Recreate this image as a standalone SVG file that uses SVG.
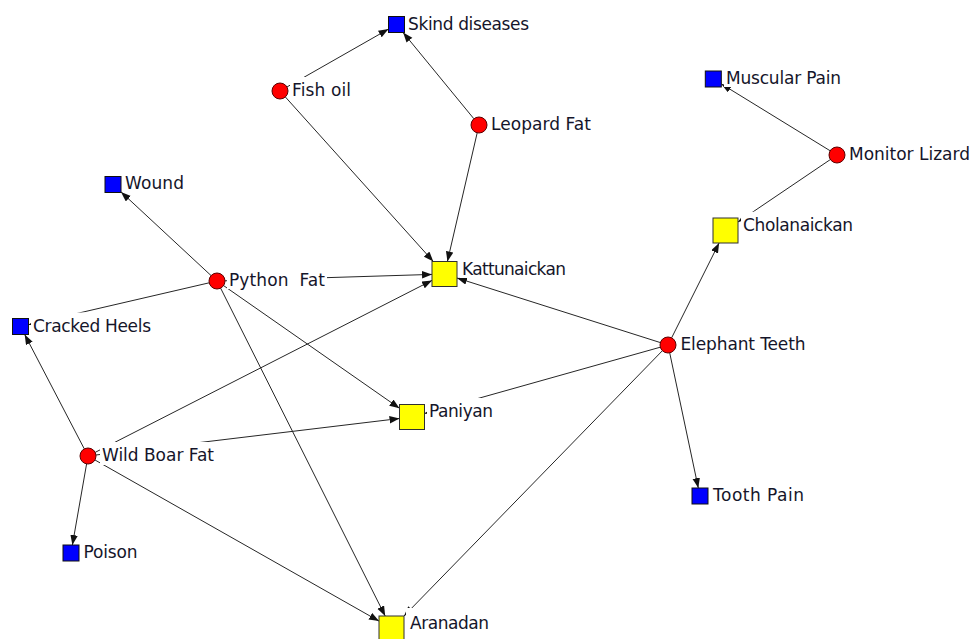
<svg xmlns="http://www.w3.org/2000/svg" width="973" height="639" viewBox="0 0 973 639">
  <style>
    .edge { stroke: #262626; stroke-width: 1; fill: none; marker-end: url(#arrow); }
    .remedy { fill: #ff0000; stroke: #5a0000; stroke-width: 1; }
    .ailment { fill: #0000ff; stroke: #101010; stroke-width: 1; }
    .tribe { fill: #ffff00; stroke: #303030; stroke-width: 1; }
    .lbl-bg { fill: #ffffff; }
    .lbl { font-family: "DejaVu Sans", "Liberation Sans", sans-serif; font-size: 17px; fill: #15152a; }
  </style>
  <defs>
    <marker id="arrow" markerUnits="userSpaceOnUse" markerWidth="11" markerHeight="8" refX="10" refY="3.75" orient="auto">
      <path d="M0,0 L10,3.75 L0,7.5 z" fill="#111111"/>
    </marker>
  </defs>

  <g id="connectors">
    <line class="edge" x1="286.9" y1="87" x2="388.5" y2="29.1"/>
    <line class="edge" x1="473.9" y1="118.8" x2="403.1" y2="32.5"/>
    <line class="edge" x1="285.3" y1="96.9" x2="433.3" y2="261.5"/>
    <line class="edge" x1="477.2" y1="132.8" x2="447.4" y2="261.5"/>
    <line class="edge" x1="211.1" y1="275.6" x2="121" y2="191.9"/>
    <line class="edge" x1="225" y1="280.8" x2="432" y2="274.4"/>
    <line class="edge" x1="209.2" y1="282.8" x2="28.5" y2="324.7"/>
    <line class="edge" x1="223.6" y1="285.6" x2="399.5" y2="408.3"/>
    <line class="edge" x1="220.6" y1="288.1" x2="385.2" y2="616"/>
    <line class="edge" x1="84.3" y1="448.9" x2="24.7" y2="334.5"/>
    <line class="edge" x1="95.1" y1="452.4" x2="432" y2="280.4"/>
    <line class="edge" x1="95.9" y1="455" x2="399.5" y2="418.5"/>
    <line class="edge" x1="86.6" y1="463.9" x2="72.4" y2="545"/>
    <line class="edge" x1="95" y1="460" x2="379" y2="621.1"/>
    <line class="edge" x1="660.4" y1="342.6" x2="457" y2="278"/>
    <line class="edge" x1="660.3" y1="347.2" x2="424.5" y2="413.5"/>
    <line class="edge" x1="671.6" y1="337.9" x2="719.1" y2="243"/>
    <line class="edge" x1="669.7" y1="352.8" x2="698.3" y2="488"/>
    <line class="edge" x1="662.4" y1="350.7" x2="404" y2="616"/>
    <line class="edge" x1="830.2" y1="150.8" x2="721.3" y2="83.9"/>
    <line class="edge" x1="830.4" y1="159.5" x2="738" y2="222"/>
  </g>

  <g id="skind-diseases">
    <rect class="lbl-bg" x="406" y="10.5" width="126" height="23"/>
    <rect class="ailment" x="388.5" y="16.5" width="16" height="16"/>
    <text class="lbl" x="408" y="29.5" textLength="121">Skind diseases</text>
  </g>
  <g id="fish-oil">
    <rect class="lbl-bg" x="290" y="77" width="64" height="23"/>
    <circle class="remedy" cx="280" cy="91" r="8"/>
    <text class="lbl" x="292" y="96" textLength="59">Fish oil</text>
  </g>
  <g id="leopard-fat">
    <rect class="lbl-bg" x="489" y="111" width="105" height="23"/>
    <circle class="remedy" cx="479" cy="125" r="8"/>
    <text class="lbl" x="491" y="130" textLength="100">Leopard Fat</text>
  </g>
  <g id="muscular-pain">
    <rect class="lbl-bg" x="724" y="65" width="120" height="22"/>
    <rect class="ailment" x="705.3" y="71" width="16" height="16"/>
    <text class="lbl" x="726" y="84" textLength="115">Muscular Pain</text>
  </g>
  <g id="monitor-lizard">
    <rect class="lbl-bg" x="847" y="141" width="126" height="23"/>
    <circle class="remedy" cx="837" cy="155" r="8"/>
    <text class="lbl" x="849" y="160" textLength="121">Monitor Lizard</text>
  </g>
  <g id="wound">
    <rect class="lbl-bg" x="123" y="170" width="64" height="23"/>
    <rect class="ailment" x="105" y="176.5" width="16" height="16"/>
    <text class="lbl" x="125" y="189" textLength="59">Wound</text>
  </g>
  <g id="cholanaickan">
    <rect class="lbl-bg" x="741" y="211.7" width="115" height="23"/>
    <rect class="tribe" x="713" y="218" width="25" height="25"/>
    <text class="lbl" x="743" y="230.7" textLength="110">Cholanaickan</text>
  </g>
  <g id="python-fat">
    <rect class="lbl-bg" x="227" y="267" width="100" height="22"/>
    <circle class="remedy" cx="217" cy="281" r="8"/>
    <text class="lbl" x="229" y="286" textLength="96">Python&#160;&#160;Fat</text>
  </g>
  <g id="kattunaickan">
    <rect class="lbl-bg" x="460" y="255.5" width="109" height="22.5"/>
    <rect class="tribe" x="432" y="261.5" width="25" height="25"/>
    <text class="lbl" x="462" y="274.5" textLength="104">Kattunaickan</text>
  </g>
  <g id="cracked-heels">
    <rect class="lbl-bg" x="31" y="312.5" width="122" height="23"/>
    <rect class="ailment" x="12.5" y="318.5" width="16" height="16"/>
    <text class="lbl" x="33" y="331.5" textLength="118">Cracked Heels</text>
  </g>
  <g id="elephant-teeth">
    <rect class="lbl-bg" x="678" y="331" width="131" height="23"/>
    <circle class="remedy" cx="668" cy="345" r="8"/>
    <text class="lbl" x="680.5" y="349.5" textLength="125">Elephant Teeth</text>
  </g>
  <g id="paniyan">
    <rect class="lbl-bg" x="427" y="398" width="69" height="23"/>
    <rect class="tribe" x="399.5" y="404.5" width="25" height="25"/>
    <text class="lbl" x="429" y="417" textLength="64">Paniyan</text>
  </g>
  <g id="wild-boar-fat">
    <rect class="lbl-bg" x="100" y="442" width="116" height="23"/>
    <circle class="remedy" cx="88" cy="456" r="8"/>
    <text class="lbl" x="102" y="461" textLength="112">Wild Boar Fat</text>
  </g>
  <g id="tooth-pain">
    <rect class="lbl-bg" x="711" y="482" width="95" height="23"/>
    <rect class="ailment" x="692" y="488" width="16" height="16"/>
    <text class="lbl" x="713" y="501" textLength="91">Tooth Pain</text>
  </g>
  <g id="poison">
    <rect class="lbl-bg" x="81" y="539" width="59" height="23"/>
    <rect class="ailment" x="63" y="545" width="16" height="16"/>
    <text class="lbl" x="83.5" y="558" textLength="54">Poison</text>
  </g>
  <g id="aranadan">
    <rect class="lbl-bg" x="406" y="608" width="86" height="25"/>
    <rect class="tribe" x="379" y="616" width="25" height="25"/>
    <text class="lbl" x="410" y="628.5" textLength="79">Aranadan</text>
  </g>
</svg>
